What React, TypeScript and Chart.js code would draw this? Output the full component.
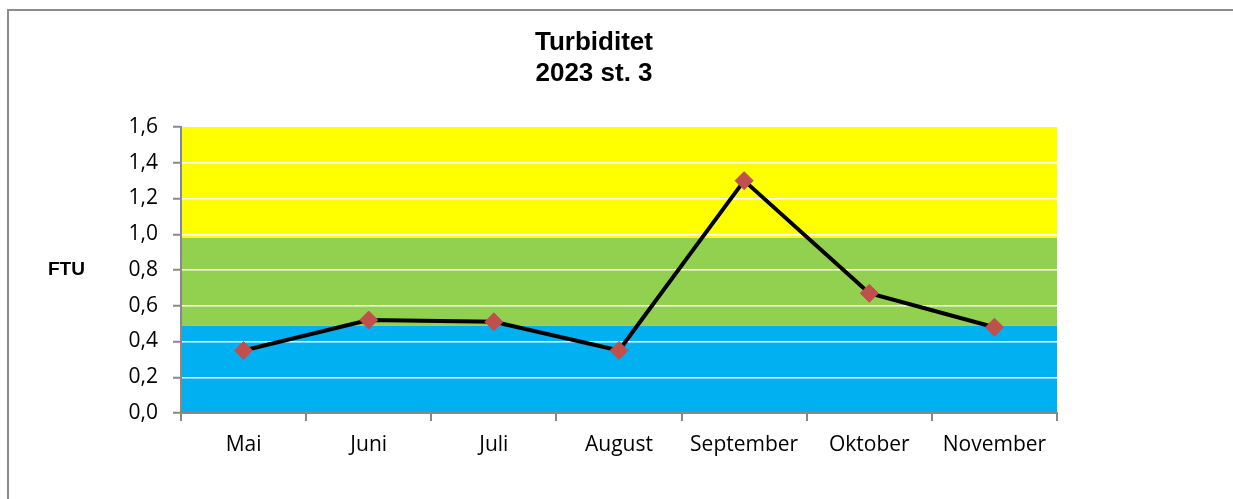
import React, { useEffect, useRef } from 'react';
import { Chart, registerables } from 'chart.js';

Chart.register(...registerables);

const months = ['Mai', 'Juni', 'Juli', 'August', 'September', 'Oktober', 'November'];
const turbidity = [0.35, 0.52, 0.51, 0.35, 1.3, 0.67, 0.48];
const bandLimits = [0.49, 0.98, 1.6];
const bandColors = ['#00B0F0', '#92D050', '#FFFF00'];
const titleLines = ['Turbiditet', '2023 st. 3'];
const yAxisLabel = 'FTU';
const yMin = 0;
const yMax = 1.6;
const yStep = 0.2;

const bandsPlugin = {
  id: 'bands',
  beforeDraw(chart: any) {
    const { ctx, chartArea, scales } = chart;
    const y = scales.y;
    let prev = yMin;
    ctx.save();
    bandLimits.forEach((lim, i) => {
      const top = y.getPixelForValue(lim);
      const bottom = y.getPixelForValue(prev);
      ctx.fillStyle = bandColors[i];
      ctx.fillRect(chartArea.left, top, chartArea.right - chartArea.left, bottom - top);
      prev = lim;
    });
    ctx.restore();
  },
};

const textPlugin = {
  id: 'texts',
  afterDraw(chart: any) {
    const { ctx, chartArea } = chart;
    ctx.save();
    ctx.fillStyle = '#000';
    ctx.font = 'bold 19px "Liberation Sans", Arial, sans-serif';
    ctx.textAlign = 'left';
    ctx.textBaseline = 'middle';
    ctx.fillText(yAxisLabel, 48, (chartArea.top + chartArea.bottom) / 2);
    ctx.font = 'bold 26px "Liberation Sans", Arial, sans-serif';
    ctx.textAlign = 'center';
    ctx.textBaseline = 'alphabetic';
    ctx.fillText(titleLines[0], 594, 50);
    ctx.fillText(titleLines[1], 594, 81);
    ctx.restore();
  },
};

export default function App() {
  const ref = useRef<HTMLCanvasElement | null>(null);

  useEffect(() => {
    if (!ref.current) return;
    const tickFont = { family: '"Open Sans", sans-serif', size: 21 };
    const chart = new Chart(ref.current, {
      type: 'line',
      data: {
        labels: months,
        datasets: [
          {
            data: turbidity,
            borderColor: '#000000',
            borderWidth: 4,
            pointStyle: 'rectRot',
            pointRadius: 9,
            pointHoverRadius: 9,
            pointBackgroundColor: '#C0504D',
            pointBorderColor: '#C0504D',
            pointBorderWidth: 1,
            tension: 0,
            clip: false as any,
          },
        ],
      },
      options: {
        animation: false,
        responsive: false,
        layout: { padding: { left: 0, right: 131, top: 127, bottom: 0 } },
        plugins: {
          legend: { display: false },
          tooltip: { enabled: false },
          title: { display: false },
        },
        scales: {
          x: {
            type: 'category',
            offset: true,
            afterFit: (scale: any) => {
              scale.height = 86;
            },
            grid: {
              offset: true,
              drawOnChartArea: false,
              drawTicks: true,
              tickLength: 8,
              tickColor: '#888888',
              tickWidth: 2,
              lineWidth: 2,
              color: '#888888',
            },
            border: { display: true, color: '#888888', width: 2 },
            ticks: { color: '#000', font: tickFont, padding: 11, maxRotation: 0, autoSkip: false },
          },
          y: {
            min: yMin,
            max: yMax,
            afterFit: (scale: any) => {
              scale.width = 181;
            },
            grid: {
              color: (c: any) => (c.tick && c.tick.value === yMax ? 'rgba(0,0,0,0)' : '#ffffff'),
              lineWidth: 1.5,
              drawTicks: true,
              tickLength: 8,
              tickColor: '#888888',
              tickWidth: 2,
            },
            border: { display: true, color: '#888888', width: 2 },
            ticks: {
              stepSize: yStep,
              color: '#000',
              font: tickFont,
              padding: 15,
              callback: (v: any) => Number(v).toFixed(1).replace('.', ','),
            },
          },
        },
      },
      plugins: [bandsPlugin, textPlugin],
    } as any);
    return () => chart.destroy();
  }, []);

  return (
    <div style={{ position: 'fixed', left: 0, top: 0, right: 0, bottom: 0, overflow: 'hidden', background: '#fff' }}>
      <div
        style={{
          position: 'absolute',
          left: 7,
          top: 9,
          width: 1400,
          height: 700,
          border: '2px solid #8c8c8c',
          boxSizing: 'border-box',
        }}
      />
      <canvas
        ref={ref}
        width={1188}
        height={499}
        style={{ position: 'absolute', left: 0, top: 0, width: 1188, height: 499 }}
      />
    </div>
  );
}
